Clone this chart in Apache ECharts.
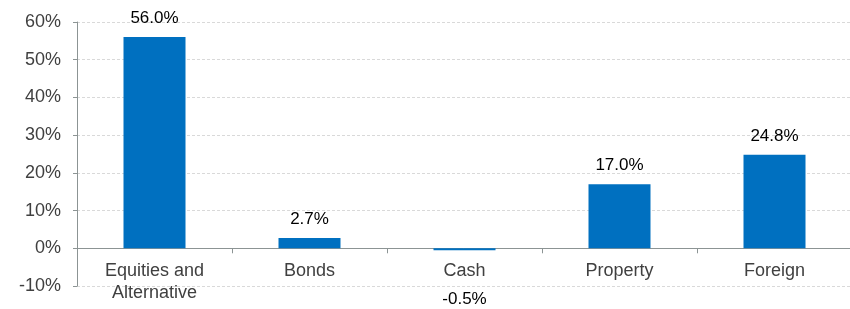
<!DOCTYPE html>
<html>
<head>
<meta charset="utf-8">
<script src="https://cdn.jsdelivr.net/npm/echarts@6/dist/echarts.min.js"></script>
<style>
  html, body { margin: 0; padding: 0; background: #fff; }
  #main { width: 850px; height: 309px; }
</style>
</head>
<body>
<div id="main"></div>
<script>
// 类别与数值
var categories = ['Equities and\nAlternative', 'Bonds', 'Cash', 'Property', 'Foreign'];
var values = [56.0, 2.7, -0.5, 17.0, 24.8];
var yTicks = [-10, 0, 10, 20, 30, 40, 50, 60];

var chart = echarts.init(document.getElementById('main'));

var seriesData = values.map(function (v) {
    var item = { value: v };
    if (v < 0) {
        // 负值标签放在下方
        item.label = { position: 'bottom', offset: [0, 31] };
    }
    return item;
});

var option = {
    animation: false,
    backgroundColor: '#ffffff',
    textStyle: { fontFamily: 'Liberation Sans, Arial, sans-serif' },
    grid: {
        left: 77,
        width: 775,
        top: 22,
        bottom: 23,
        containLabel: false,
        outerBoundsMode: 'none'
    },
    xAxis: {
        type: 'category',
        data: categories,
        axisLine: { onZero: true, lineStyle: { color: '#8c9494', width: 1 } },
        axisTick: { show: true, alignWithLabel: false, length: 5, lineStyle: { color: '#8c9494' } },
        // 标签紧贴零轴下方
        axisLabel: { color: '#404040', fontSize: 18, lineHeight: 22, margin: -26 },
        splitLine: { show: false }
    },
    yAxis: {
        type: 'value',
        min: yTicks[0],
        max: yTicks[yTicks.length - 1],
        interval: 10,
        axisLine: { show: true, lineStyle: { color: '#8c9494', width: 1 } },
        axisTick: { show: true, length: 4, lineStyle: { color: '#8c9494' } },
        axisLabel: {
            color: '#404040',
            fontSize: 18,
            margin: 16,
            formatter: function (v) { return v + '%'; }
        },
        splitLine: { show: true, lineStyle: { color: '#d9d9d9', type: [3, 2], width: 1 } }
    },
    series: [{
        type: 'bar',
        data: seriesData,
        barWidth: 62,
        itemStyle: { color: '#0070c0' },
        label: {
            show: true,
            position: 'top',
            distance: 10,
            color: '#000000',
            fontSize: 17,
            formatter: function (p) { return p.value.toFixed(1) + '%'; }
        }
    }]
};

chart.setOption(option);
</script>
</body>
</html>
